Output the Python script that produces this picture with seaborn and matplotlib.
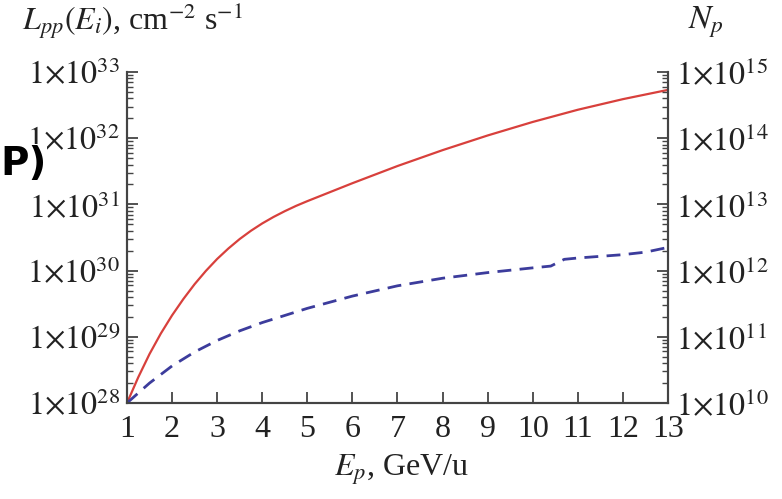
import numpy as np
import pandas as pd
import matplotlib
matplotlib.use("Agg")
import matplotlib.pyplot as plt
import matplotlib.ticker as mticker
import seaborn as sns

# energia por nucleon, GeV/u
energy_l = [1, 1.25, 1.5, 1.75, 2, 2.25, 2.5, 2.75, 3, 3.25, 3.5, 3.75, 4, 4.25, 4.5, 4.75,
            5, 6, 7, 8, 9, 10, 11, 12, 13]
# luminosidad L_pp, cm^-2 s^-1 (curva roja)
lum = [1.0e28, 2.45e28, 5.5e28, 1.12e29, 2.11e29, 3.72e29, 6.24e29, 9.9e29, 1.5e30,
       2.16e30, 3.0e30, 4.0e30, 5.16e30, 6.46e30, 7.9e30, 9.5e30,
       1.12e31, 2.09e31, 3.8e31, 6.6e31, 1.1e32, 1.76e32, 2.69e32, 3.89e32, 5.37e32]

energy_n = [1, 1.5, 2, 2.5, 3, 3.5, 4, 5, 6, 7, 8, 9, 10, 10.4, 10.7, 11, 12, 12.5, 13]
# numero de protones N_p (curva azul discontinua)
n_p = [1.0e10, 2.0e10, 3.63e10, 5.9e10, 8.8e10, 1.23e11, 1.64e11, 2.69e11, 4.12e11,
       5.89e11, 7.67e11, 9.33e11, 1.1e12, 1.17e12, 1.48e12, 1.55e12, 1.74e12, 1.9e12, 2.24e12]

df_l = pd.DataFrame({"E": energy_l, "L": lum})
df_n = pd.DataFrame({"E": energy_n, "Np": n_p})


def sci_label(v, pos):
    if v <= 0:
        return ""
    return r"$1{\times}10^{%d}$" % int(round(np.log10(v)))


def main():
    sns.set_style("ticks")
    plt.rcParams["font.family"] = ["Liberation Serif", "DejaVu Serif"]
    plt.rcParams["mathtext.fontset"] = "stix"

    fig = plt.figure(figsize=(7.82, 4.99), dpi=100)
    ax = fig.add_axes([0.1624, 0.1924, 0.6918, 0.6633])
    ax2 = ax.twinx()

    sns.lineplot(data=df_l, x="E", y="L", ax=ax, color="#d8403c", linewidth=1.6)
    sns.lineplot(data=df_n, x="E", y="Np", ax=ax2, color="#3c3c9c", linewidth=2.0,
                 linestyle=(0, (5, 3)))

    ax.set_yscale("log")
    ax2.set_yscale("log")
    ax.set_ylim(1e28, 1e33)
    ax2.set_ylim(1e10, 1e15)
    ax.set_xlim(1, 13)
    ax.set_xticks(range(1, 14))

    for a in (ax, ax2):
        a.yaxis.set_major_locator(mticker.LogLocator(base=10, numticks=10))
        a.yaxis.set_minor_locator(mticker.LogLocator(base=10, subs=np.arange(2, 10), numticks=20))
        a.yaxis.set_major_formatter(mticker.FuncFormatter(sci_label))
        a.yaxis.set_minor_formatter(mticker.NullFormatter())
        a.set_xlabel("")
        a.set_ylabel("")
        for s in a.spines.values():
            s.set_color("#444444")
            s.set_linewidth(1.5)
        a.spines["top"].set_visible(False)

    ax.tick_params(axis="both", which="major", direction="in", length=8, width=1.3,
                   colors="#444444", labelcolor="#222222", labelsize=23)
    ax.tick_params(axis="y", which="minor", direction="in", length=4, width=1.0, colors="#444444")
    ax.tick_params(axis="x", pad=9)
    ax.tick_params(axis="y", pad=5)
    ax2.tick_params(axis="y", which="major", direction="in", length=8, width=1.3,
                    colors="#444444", labelcolor="#222222", labelsize=23, pad=6)
    ax2.tick_params(axis="y", which="minor", direction="in", length=4, width=1.0, colors="#444444")

    fig.text(0.028, 0.958, r"$L_{pp}(E_i)$, cm$^{-2}$ s$^{-1}$", fontsize=23,
             color="#222222", ha="left", va="center")
    fig.text(0.88, 0.955, r"$N_p$", fontsize=24, color="#222222", ha="left", va="center")
    fig.text(0.513, 0.058, r"$E_p$, GeV/u", fontsize=23, color="#222222", ha="center", va="center")
    # etiqueta del panel, tapa parcialmente la etiqueta del eje como en el original
    fig.text(0.0, 0.672, "P)", fontsize=28, fontweight="bold", family="DejaVu Sans",
             color="black", ha="left", va="center", zorder=10,
             bbox=dict(facecolor="white", edgecolor="none", pad=0.5))

    fig.savefig("out.png", dpi=100)
    plt.close(fig)


if __name__ == "__main__":
    main()
